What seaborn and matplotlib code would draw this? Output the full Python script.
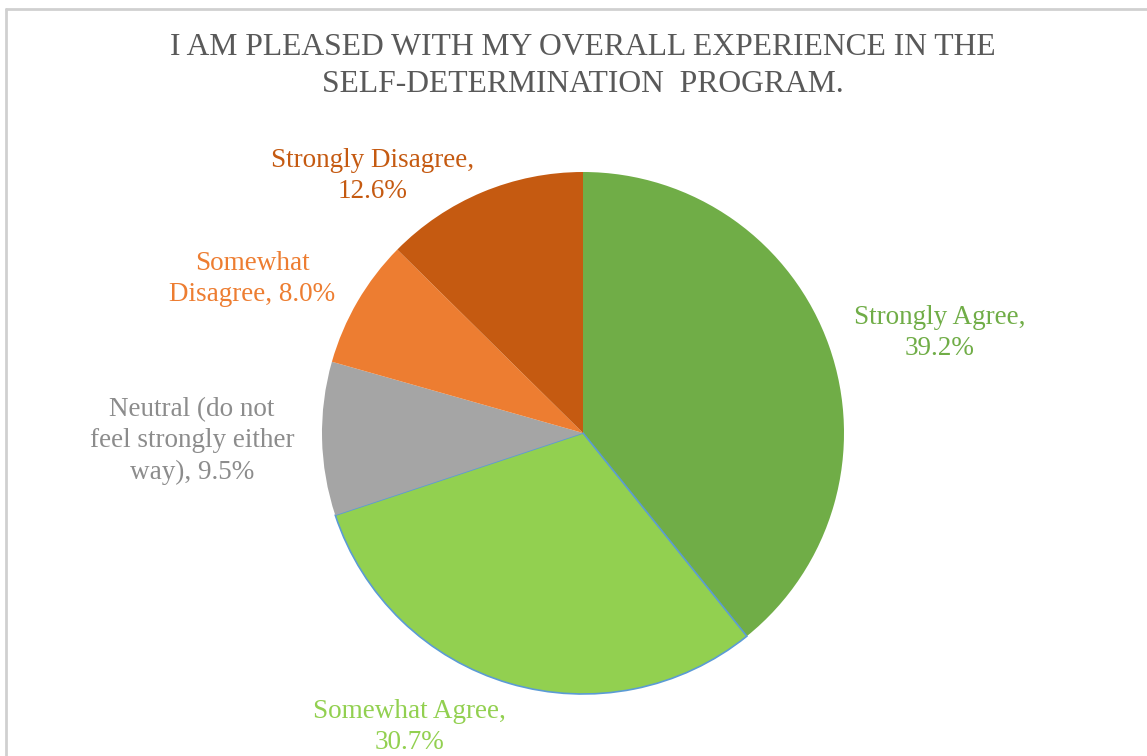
import matplotlib
matplotlib.use("Agg")
import matplotlib.pyplot as plt
import seaborn as sns
from matplotlib.lines import Line2D

categories = ["Strongly Agree", "Somewhat Agree", "Neutral (do not feel strongly either way)",
              "Somewhat Disagree", "Strongly Disagree"]
values = [39.2, 30.7, 9.5, 8.0, 12.6]
label_texts = ["Strongly Agree,\n39.2%", "Somewhat Agree,\n30.7%",
               "Neutral (do not\nfeel strongly either\nway), 9.5%",
               "Somewhat\nDisagree, 8.0%", "Strongly Disagree,\n12.6%"]
title = "I AM PLEASED WITH MY OVERALL EXPERIENCE IN THE\nSELF-DETERMINATION  PROGRAM."

wedge_colors = ["#70AD47", "#92D050", "#A5A5A5", "#ED7D31", "#C55A11"]
text_colors = ["#70AD47", "#92D050", "#8C8C8C", "#ED7D31", "#C55A11"]
# label centres in figure pixels (x from left, y from top)
label_pos_px = [(940, 333), (409, 727), (192, 441), (252, 279), (373, 176)]

sns.set_theme(style="white")
plt.rcParams["font.family"] = ["Liberation Serif", "DejaVu Serif"]

W, H = 1147, 756
fig = plt.figure(figsize=(W / 100, H / 100), dpi=100)
fig.patch.set_facecolor("white")

cx, cy, r = 583, 433, 261
ax = fig.add_axes([(cx - r) / W, (H - cy - r) / H, 2 * r / W, 2 * r / H])
wedges, _ = ax.pie(values, colors=wedge_colors, startangle=90, counterclock=False,
                   radius=1, wedgeprops=dict(linewidth=0.6, edgecolor="none"))
wedges[1].set_edgecolor("#5B9BD5")
wedges[1].set_linewidth(1.2)
ax.set_xlim(-1, 1)
ax.set_ylim(-1, 1)
ax.set_aspect("equal")
ax.axis("off")

for txt, col, (px, py) in zip(label_texts, text_colors, label_pos_px):
    fig.text(px / W, 1 - py / H, txt, color=col, fontsize=19.5,
             ha="center", va="center", multialignment="center", linespacing=1.32)

fig.text(583 / W, 1 - 66 / H, title, color="#595959", fontsize=22.8,
         ha="center", va="center", multialignment="center", linespacing=1.35)

# chart border (top and left visible)
fig.add_artist(Line2D([6 / W, 6 / W], [0, 1 - 9 / H], transform=fig.transFigure,
                      color="#D0D0D0", linewidth=2))
fig.add_artist(Line2D([6 / W, 1], [1 - 9 / H, 1 - 9 / H], transform=fig.transFigure,
                      color="#D0D0D0", linewidth=2))

fig.savefig("out.png", dpi=100, facecolor="white")
